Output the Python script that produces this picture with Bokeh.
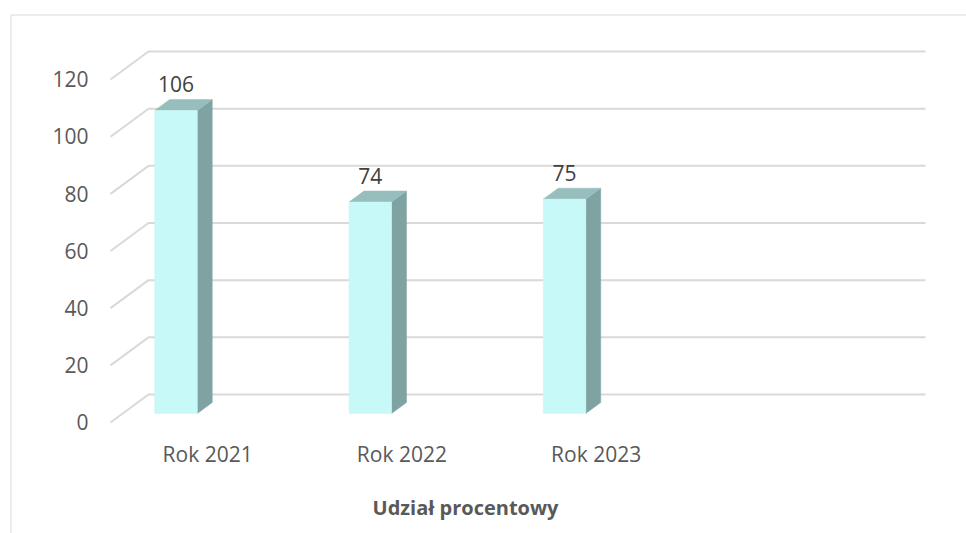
from bokeh.plotting import figure
from bokeh.models import Range1d
from bokeh.core.properties import value
from bokeh.embed import file_html
from bokeh.resources import INLINE

# ---- data ----
categories = ["Rok 2021", "Rok 2022", "Rok 2023"]
values = [106, 74, 75]
y_ticks = [0, 20, 40, 60, 80, 100, 120]
y_tick_labels = ["0", "20", "40", "60", "80", "100", "120"]
n_slots = 4
axis_title = "Udział procentowy"

# ---- layout / style constants ----
W, H = 966, 533
PX_CAT = 194.25          # pixels per category slot
PX_VAL = 2.858           # pixels per value unit
ORIG_X = 110             # figure px of front-plane category 0
ORIG_Y = 422             # figure px of front-plane value 0
DX = 38 / PX_CAT         # depth offset (category units)
DV = 28 / PX_VAL         # depth offset (value units)
D_FRONT, D_BACK = 0.321, 0.714
BAR_L, BAR_R = 0.165, 0.384
TXT_SHIFT = 8.5 / PX_VAL  # text baseline correction

FONT = value("Open Sans")
GRID = "#d9d9d9"
TXT = "#595959"
FRONT_C, TOP_C, SIDE_C = "#c8f9f9", "#98bdbd", "#7fa2a2"

x0 = -ORIG_X / PX_CAT
x1 = (W - ORIG_X) / PX_CAT
y1 = ORIG_Y / PX_VAL
y0 = y1 - H / PX_VAL

p = figure(width=W, height=H, output_backend="svg", toolbar_location=None,
           x_range=Range1d(x0, x1), y_range=Range1d(y0, y1),
           x_axis_type=None, y_axis_type=None, min_border=0)
p.outline_line_color = None
p.grid.visible = False
p.background_fill_color = "white"
p.border_fill_color = "white"


def pt(c, v, d):
    return c + d * DX, v + d * DV


# outer chart border (top and left visible)
bx = (10.5 - ORIG_X) / PX_CAT
by = (ORIG_Y - 14.5) / PX_VAL
p.line([bx, x1], [by, by], line_color=GRID, line_width=1)
p.line([bx, bx], [by, y0], line_color=GRID, line_width=1)

# perspective gridlines
gxs, gys = [], []
for t in y_ticks:
    a = pt(0, t, 0)
    b = pt(0, t, 1)
    c = pt(n_slots, t, 1)
    gxs.append([a[0], b[0], c[0]])
    gys.append([a[1], b[1], c[1]])
p.multi_line(gxs, gys, line_color=GRID, line_width=2)

# bars
fx, fy, sx, sy, tx, ty = [], [], [], [], [], []
for i, val in enumerate(values):
    cl, cr = i + BAR_L, i + BAR_R
    pts = [pt(cl, 0, D_FRONT), pt(cr, 0, D_FRONT), pt(cr, val, D_FRONT), pt(cl, val, D_FRONT)]
    fx.append([q[0] for q in pts]); fy.append([q[1] for q in pts])
    pts = [pt(cr, 0, D_FRONT), pt(cr, 0, D_BACK), pt(cr, val, D_BACK), pt(cr, val, D_FRONT)]
    sx.append([q[0] for q in pts]); sy.append([q[1] for q in pts])
    pts = [pt(cl, val, D_FRONT), pt(cr, val, D_FRONT), pt(cr, val, D_BACK), pt(cl, val, D_BACK)]
    tx.append([q[0] for q in pts]); ty.append([q[1] for q in pts])
p.patches(sx, sy, fill_color=SIDE_C, line_color=SIDE_C, line_width=0.5)
p.patches(tx, ty, fill_color=TOP_C, line_color=TOP_C, line_width=0.5)
p.patches(fx, fy, fill_color=FRONT_C, line_color=FRONT_C, line_width=0.5)

# data labels
lab_x = [pt(i + (BAR_L + BAR_R) / 2, v, D_FRONT)[0] for i, v in enumerate(values)]
lab_y = [pt(0, v, D_FRONT)[1] + 18 / PX_VAL + TXT_SHIFT for v in values]
p.text(lab_x, lab_y, text=[str(v) for v in values], text_font=FONT,
       text_font_size="21px", text_color="#404040", text_align="center",
       text_baseline="alphabetic")

# y tick labels (front plane)
p.text([(-22) / PX_CAT] * len(y_ticks), [t - 8.2 / PX_VAL + TXT_SHIFT for t in y_ticks],
       text=y_tick_labels, text_font=FONT, text_font_size="21px",
       text_color=TXT, text_align="right", text_baseline="alphabetic")

# category labels
p.text([i + 0.5 for i in range(len(categories))],
       [-39.5 / PX_VAL + TXT_SHIFT] * len(categories), text=categories, text_font=FONT,
       text_font_size="21px", text_color=TXT, text_align="center",
       text_baseline="alphabetic")

# axis title
p.text([(465 - 110) / PX_CAT], [-93 / PX_VAL + TXT_SHIFT], text=[axis_title], text_font=FONT,
       text_font_size="20px", text_font_style="bold", text_color=TXT,
       text_align="center", text_baseline="alphabetic")

open("out.html", "w").write(file_html(p, INLINE))
